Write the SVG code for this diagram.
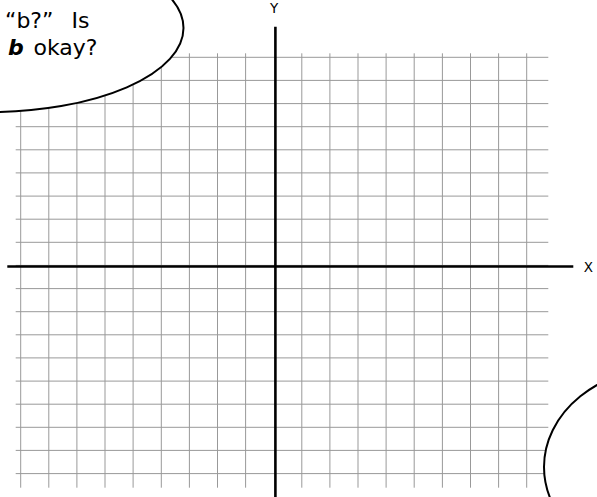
<svg xmlns="http://www.w3.org/2000/svg" width="597" height="497" viewBox="0 0 597 497">
<style>
.grid{stroke:#999;stroke-width:1;fill:none}
.axis{stroke:#000;stroke-width:2.6;fill:none}
.bubble{fill:#fff;stroke:#000;stroke-width:2}
.lbl{font-family:"DejaVu Sans",Verdana,sans-serif;font-size:13.5px;fill:#000}
.say{font-family:"DejaVu Sans",Verdana,sans-serif;font-size:22px;fill:#000}
</style>
<rect width="597" height="497" fill="#fff"/>
<g id="grid">
<path class="grid" d="M15.7 57.3H548.3M15.7 80.4H548.3M15.7 103.6H548.3M15.7 126.7H548.3M15.7 149.8H548.3M15.7 172.9H548.3M15.7 196.1H548.3M15.7 219.2H548.3M15.7 242.3H548.3M15.7 265.4H548.3M15.7 288.6H548.3M15.7 311.7H548.3M15.7 334.8H548.3M15.7 357.9H548.3M15.7 381.1H548.3M15.7 404.2H548.3M15.7 427.3H548.3M15.7 450.4H548.3M15.7 473.6H548.3"/>
<path class="grid" d="M20.7 53.3V487.7M48.8 53.3V487.7M76.9 53.3V487.7M105 53.3V487.7M133.1 53.3V487.7M161.3 53.3V487.7M189.4 53.3V487.7M217.5 53.3V487.7M245.6 53.3V487.7M301.8 53.3V487.7M329.9 53.3V487.7M358 53.3V487.7M386.1 53.3V487.7M414.2 53.3V487.7M442.4 53.3V487.7M470.5 53.3V487.7M498.6 53.3V487.7M526.7 53.3V487.7"/>
</g>
<g id="axes">
<line class="axis" x1="7.3" y1="266.5" x2="573.3" y2="266.5"/>
<line class="axis" x1="275.4" y1="26.7" x2="275.4" y2="497"/>
</g>
<g id="axis-labels">
<text class="lbl" x="274" y="13.3" text-anchor="middle">Y</text>
<text class="lbl" x="588.3" y="271.7" text-anchor="middle">X</text>
</g>
<g id="bubble-top">
<ellipse class="bubble" cx="-10" cy="28" rx="193.5" ry="84"/>
<text class="say" x="5" y="28">“b?”</text>
<text class="say" x="71.5" y="28">Is</text>
<text class="say" y="55"><tspan x="8" font-weight="bold" font-style="italic">b</tspan><tspan x="33.5">okay?</tspan></text>
</g>
<g id="bubble-bottom">
<ellipse class="bubble" cx="668" cy="467" rx="124" ry="100"/>
</g>
</svg>
